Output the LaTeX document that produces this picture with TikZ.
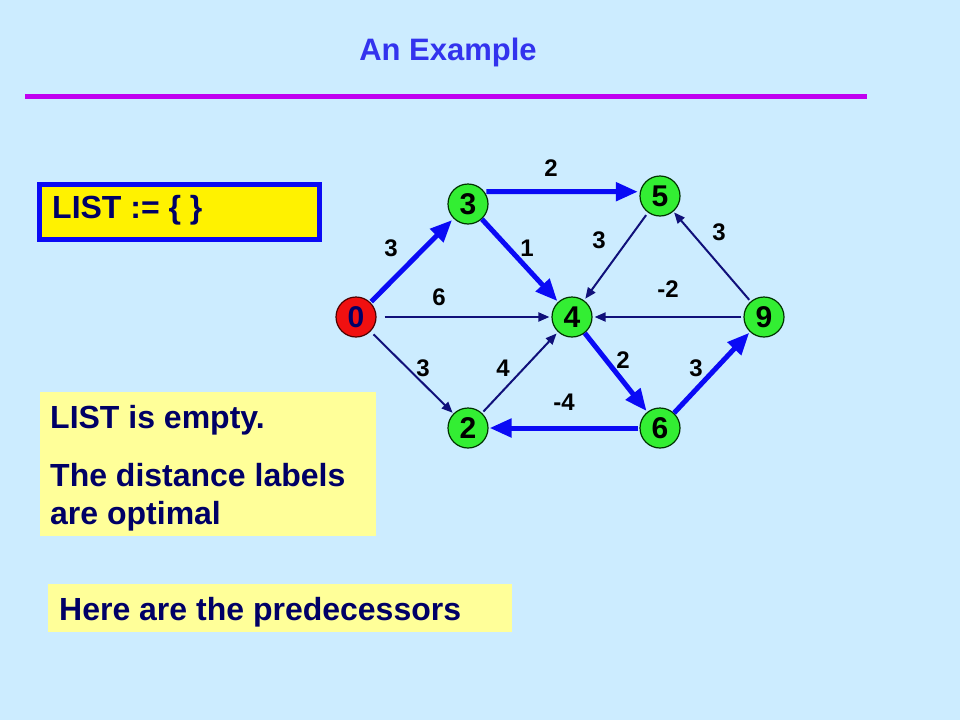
\documentclass[tikz,border=0pt]{standalone}
\usepackage{fontspec}
\setmainfont{Liberation Sans}
\usetikzlibrary{arrows.meta}
\definecolor{bgblue}{HTML}{CCECFF}
\definecolor{titleblue}{HTML}{3333EE}
\definecolor{rulemag}{HTML}{C000F0}
\definecolor{navy}{HTML}{000066}
\definecolor{thinnavy}{HTML}{10107A}
\definecolor{thickblue}{HTML}{0A0AF5}
\definecolor{nodegreen}{HTML}{33EE33}
\definecolor{nodered}{HTML}{F01010}
\definecolor{paleyellow}{HTML}{FFFF99}
\begin{document}
\begin{tikzpicture}[x=1pt,y=-1pt,
  vert/.style={circle, draw=black!80!green, line width=1.2pt, fill=nodegreen,
    minimum size=40pt, inner sep=0pt, font=\fontsize{30}{32}\selectfont\bfseries, text=black},
  redvert/.style={vert, fill=nodered, draw=black!70!red, text=navy},
  thick edge/.style={draw=thickblue, line width=5pt, -{Triangle[length=22pt,width=18pt]}},
  thin edge/.style={draw=thinnavy, line width=2pt, -{Triangle[length=11pt,width=9pt]}},
  elabel/.style={font=\fontsize{24}{26}\selectfont\bfseries, text=black, inner sep=0pt},
  bigtext/.style={font=\fontsize{32}{36}\selectfont\bfseries, text=navy, inner sep=0pt, anchor=base west}
]
\fill[bgblue] (0,0) rectangle (960,720);
\useasboundingbox (0,0) rectangle (960,720);

% title and rule
\node[anchor=base, text=titleblue, font=\fontsize{31}{34}\selectfont\bfseries, inner sep=0pt] (title) at (448,60) {An Example};
\fill[rulemag] (25,93.5) rectangle (867,98.5);

% LIST box
\node[draw=thickblue, line width=5pt, fill=yellow, minimum width=280pt, minimum height=55pt, inner sep=0pt] (listbox) at (179.5,212) {};
\node[bigtext] (listtext) at (52,218) {LIST := \{ \}};

% status box
\node[fill=paleyellow, minimum width=336pt, minimum height=144pt, inner sep=0pt] (statusbox) at (208,464) {};
\node[bigtext] (s1) at (50,428) {LIST is empty.};
\node[bigtext] (s2) at (50,486) {The distance labels};
\node[bigtext] (s3) at (50,524) {are optimal};

% predecessors box
\node[fill=paleyellow, minimum width=464pt, minimum height=48pt, inner sep=0pt] (predbox) at (280,608) {};
\node[bigtext] (predtext) at (59,620) {Here are the predecessors};

% vertices
\node[redvert] (n0) at (356,317) {0};
\node[vert] (n3) at (468,204) {3};
\node[vert] (n5) at (660,196) {5};
\node[vert] (n4) at (572,317) {4};
\node[vert] (n9) at (764,317) {9};
\node[vert] (n2) at (468,428) {2};
\node[vert] (n6) at (660,428) {6};

% thin edges
\draw[thin edge, shorten <=8pt, shorten >=2pt] (n0) -- (n4);
\draw[thin edge, shorten <=4pt, shorten >=1pt] (n0) -- (n2);
\draw[thin edge, shorten <=2pt, shorten >=2pt] (n2) -- (n4);
\draw[thin edge, shorten <=3pt, shorten >=2pt] (n5) -- (n4);
\draw[thin edge, shorten <=2pt, shorten >=2pt] (n9) -- (n4);
\draw[thin edge, shorten <=2pt, shorten >=1pt] (n9) -- (n5);

% thick edges
\draw[thick edge, shorten <=1pt, shorten >=2pt] (n0) -- (n3);
\draw[thick edge, shorten <=2pt, shorten >=2pt] (n3.37) -- (n5.168);
\draw[thick edge, shorten <=0pt, shorten >=1pt] (n3) -- (n4);
\draw[thick edge, shorten <=0pt, shorten >=1pt] (n4) -- (n6);
\draw[thick edge, shorten <=1pt, shorten >=1pt] (n6) -- (n2);
\draw[thick edge, shorten <=0pt, shorten >=1pt] (n6) -- (n9);

% edge labels
\node[elabel] (l35) at (551,168) {2};
\node[elabel] (l03) at (391,248) {3};
\node[elabel] (l34) at (527,248) {1};
\node[elabel] (l54) at (599,240) {3};
\node[elabel] (l95) at (719,232) {3};
\node[elabel] (l04) at (439,297) {6};
\node[elabel] (l94) at (668,289) {-2};
\node[elabel] (l02) at (423,368) {3};
\node[elabel] (l24) at (503,368) {4};
\node[elabel] (l46) at (623,360) {2};
\node[elabel] (l69) at (696,368) {3};
\node[elabel] (l62) at (564,402) {-4};
\end{tikzpicture}
\end{document}
